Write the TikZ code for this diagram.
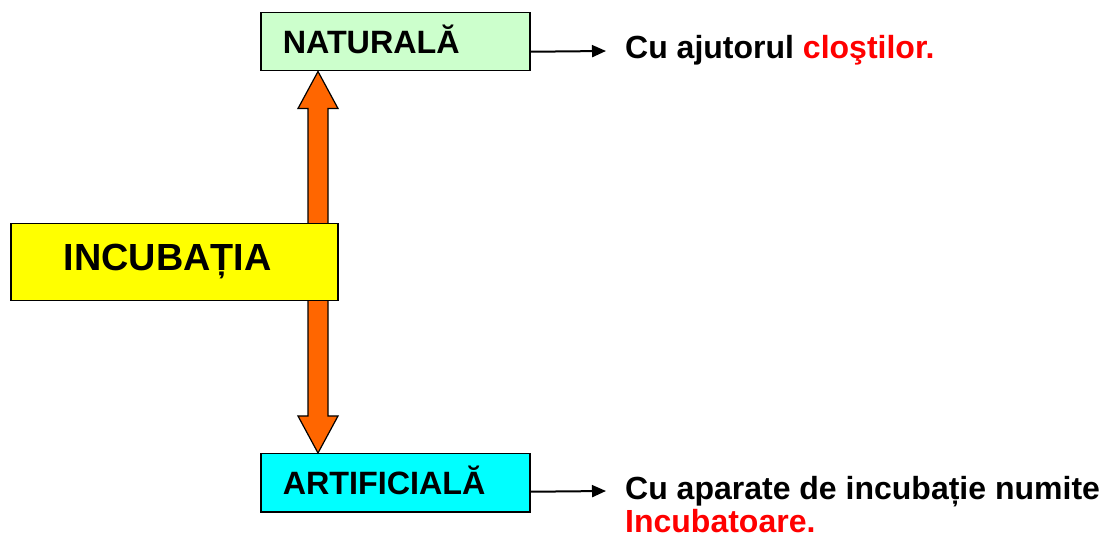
\documentclass[tikz,border=0pt]{standalone}
\usepackage{fontspec}
\setmainfont{Liberation Sans}
\usetikzlibrary{arrows.meta,calc}
\definecolor{natgreen}{HTML}{CCFFCC}
\definecolor{incyellow}{HTML}{FFFF00}
\definecolor{artcyan}{HTML}{00FFFF}
\definecolor{arrorange}{HTML}{FF6600}
\definecolor{txtred}{HTML}{FF0000}
\tikzset{
  box/.style={draw=black, line width=1.5pt, inner ysep=0pt, align=left,
    font=\bfseries\fontsize{32.3}{33}\selectfont, text height=23pt, text depth=0pt},
  smallbox/.style={box, minimum height=58pt, text width=225pt, inner xsep=22pt},
  note/.style={anchor=base west, inner sep=0pt, align=left,
    font=\bfseries\fontsize{32}{33}\selectfont},
  link/.style={line width=2pt, -{Triangle[length=14pt,width=12pt]}},
  dbl/.style={draw=black, line width=1.2pt, fill=arrorange, line join=miter}
}
\begin{document}
\begin{tikzpicture}[x=1pt,y=-1pt]
\useasboundingbox (0,0) rectangle (1104,537);
% boxes
\node[smallbox, fill=natgreen, anchor=north west] (nat) at (260,12) {NATURALĂ};
\node[smallbox, fill=artcyan, anchor=north west] (art) at (260,453) {ARTIFICIALĂ};
% double arrow (behind the central box)
\coordinate (t1) at ([xshift=58pt]nat.south west);
\coordinate (t2) at ([xshift=58pt]art.north west);
\draw[dbl] (t1) -- ($(t1)+(20,37)$) -- ($(t1)+(10,37)$) -- ($(t2)+(10,-37)$)
  -- ($(t2)+(20,-37)$) -- (t2) -- ($(t2)+(-20,-37)$) -- ($(t2)+(-10,-37)$)
  -- ($(t1)+(-10,37)$) -- ($(t1)+(-20,37)$) -- cycle;
% central box
\node[box, fill=incyellow, anchor=north west, minimum height=77pt, text width=221pt,
  inner xsep=53pt, font=\bfseries\fontsize{37.8}{40}\selectfont, text height=27pt, text depth=10pt]
  (inc) at (10,223) {INCUBAȚIA};
% notes
\node[note] (n1) at (625,59) {Cu ajutorul \textcolor{txtred}{cloştilor.}};
\node[note] (n2) at (625,532) {Cu aparate de incubație numite\\\textcolor{txtred}{Incubatoare.}};
\coordinate (e1) at (606,51);
\coordinate (e2) at (606,491);
\draw[link] ([yshift=-10pt]nat.east) -- (e1);
\draw[link] ([yshift=-9pt]art.east) -- (e2);
\end{tikzpicture}
\end{document}
